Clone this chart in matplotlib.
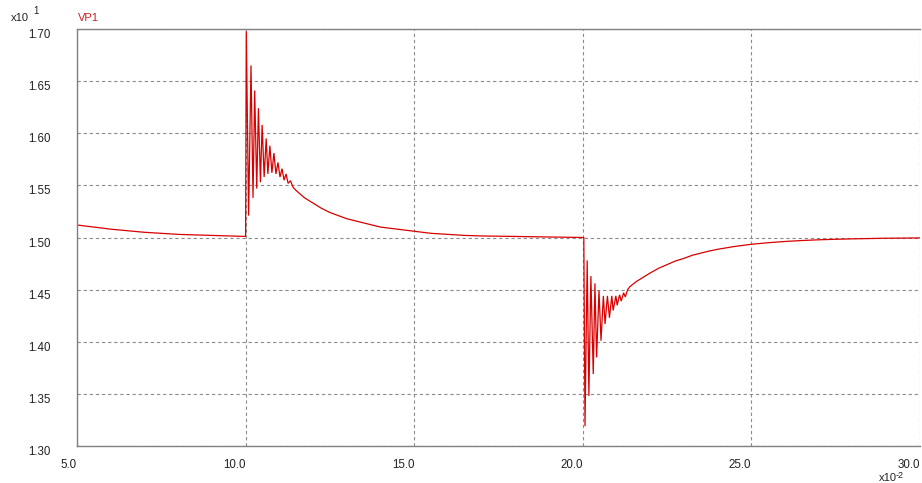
import matplotlib
matplotlib.use("Agg")
import matplotlib.pyplot as plt

plt.rcParams['font.family'] = ['Liberation Sans', 'DejaVu Sans']

# time axis in units of 1e-2 s, voltage in units of 1e1
t_pre = [5.0, 5.5, 6.0, 6.5, 7.0, 7.5, 8.0, 8.5, 9.0, 9.5, 10.0]
v_pre = [1.512, 1.510, 1.508, 1.5065, 1.505, 1.504, 1.503, 1.5025, 1.502, 1.5015, 1.501]

t_up = [10.02, 10.09, 10.16, 10.22, 10.27, 10.33, 10.38, 10.44, 10.49, 10.55,
        10.61, 10.66, 10.72, 10.78, 10.84, 10.90, 10.96, 11.02, 11.08, 11.14,
        11.20, 11.26, 11.33, 11.41, 11.5, 11.75, 12.0, 12.25, 12.5, 12.75, 13.0,
        13.25, 13.5, 13.75, 14.0, 14.5, 15.0, 15.5, 16.0, 16.5, 17.0,
        18.0, 19.0, 20.03]
v_up = [1.698, 1.521, 1.665, 1.538, 1.641, 1.547, 1.624, 1.553, 1.608, 1.558,
        1.595, 1.561, 1.588, 1.562, 1.581, 1.561, 1.572, 1.558, 1.566, 1.555,
        1.561, 1.552, 1.5545, 1.548, 1.545, 1.538, 1.533, 1.528, 1.524, 1.521, 1.518,
        1.516, 1.514, 1.512, 1.510, 1.508, 1.506, 1.504, 1.503, 1.502, 1.5015,
        1.501, 1.5005, 1.500]

t_down = [20.065, 20.13, 20.18, 20.24, 20.31, 20.36, 20.41, 20.48, 20.54, 20.61,
          20.66, 20.73, 20.79, 20.86, 20.90, 20.98, 21.02, 21.09, 21.14, 21.21,
          21.26, 21.33, 21.40, 21.6, 21.8, 22.0, 22.25, 22.5, 22.75, 23.0,
          23.25, 23.5, 23.75, 24.0, 24.5, 25.0, 25.5, 26.0, 26.5, 27.0,
          27.5, 28.0, 28.5, 29.0, 30.0]
v_down = [1.319, 1.478, 1.348, 1.463, 1.369, 1.456, 1.385, 1.449, 1.401, 1.444,
          1.417, 1.444, 1.423, 1.444, 1.430, 1.444, 1.435, 1.445, 1.439, 1.447,
          1.443, 1.450, 1.453, 1.458, 1.462, 1.466, 1.4705, 1.474, 1.4775, 1.480,
          1.483, 1.485, 1.487, 1.4887, 1.4914, 1.4935, 1.495, 1.4962, 1.4971, 1.4978,
          1.4983, 1.4987, 1.499, 1.4993, 1.4996]

x_ticks = [5.0, 10.0, 15.0, 20.0, 25.0, 30.0]
x_labels = ["5.0", "10.0", "15.0", "20.0", "25.0", "30.0"]
y_ticks = [1.30, 1.35, 1.40, 1.45, 1.50, 1.55, 1.60, 1.65, 1.70]
y_labels = ["1.30", "1.35", "1.40", "1.45", "1.50", "1.55", "1.60", "1.65", "1.70"]

t = t_pre + t_up + t_down
v = v_pre + v_up + v_down

W, H = 922, 483
fig = plt.figure(figsize=(W / 100, H / 100), dpi=100)
ax = fig.add_axes([77 / W, 1 - 446 / H, (920 - 77) / W, (446 - 29) / H])

ax.plot(t, v, color='#d80000', lw=0.9, solid_joinstyle='miter')

ax.set_xlim(5.0, 30.0)
ax.set_ylim(1.30, 1.70)
ax.set_xticks(x_ticks)
ax.set_xticklabels(x_labels, ha='right')
ax.set_yticks(y_ticks)
ax.set_yticklabels(y_labels, va='top')
ax.tick_params(axis='both', length=0, labelsize=8.3, colors='#222222')
ax.tick_params(axis='x', pad=9)
ax.tick_params(axis='y', pad=19)

ax.grid(True, color='#8c8c8c', linestyle=(0, (3, 2.5)), linewidth=0.8)
for side in ['left', 'top', 'bottom']:
    ax.spines[side].set_color('#808080')
    ax.spines[side].set_linewidth(1.0)
ax.spines['right'].set_visible(False)

fig.text(11 / W, 1 - 21 / H, "x10", fontsize=8, color='#222222', va='baseline')
fig.text(33 / W, 1 - 14 / H, "1", fontsize=7, color='#222222', va='baseline')
fig.text(78 / W, 1 - 21 / H, "VP1", fontsize=8, color='#d42020', va='baseline')
fig.text(879 / W, 1 - 481 / H, "x10", fontsize=8, color='#222222', va='baseline')
fig.text(896 / W, 1 - 477.5 / H, "-2", fontsize=6.5, color='#222222', va='baseline')

fig.savefig("out.png", dpi=100)
